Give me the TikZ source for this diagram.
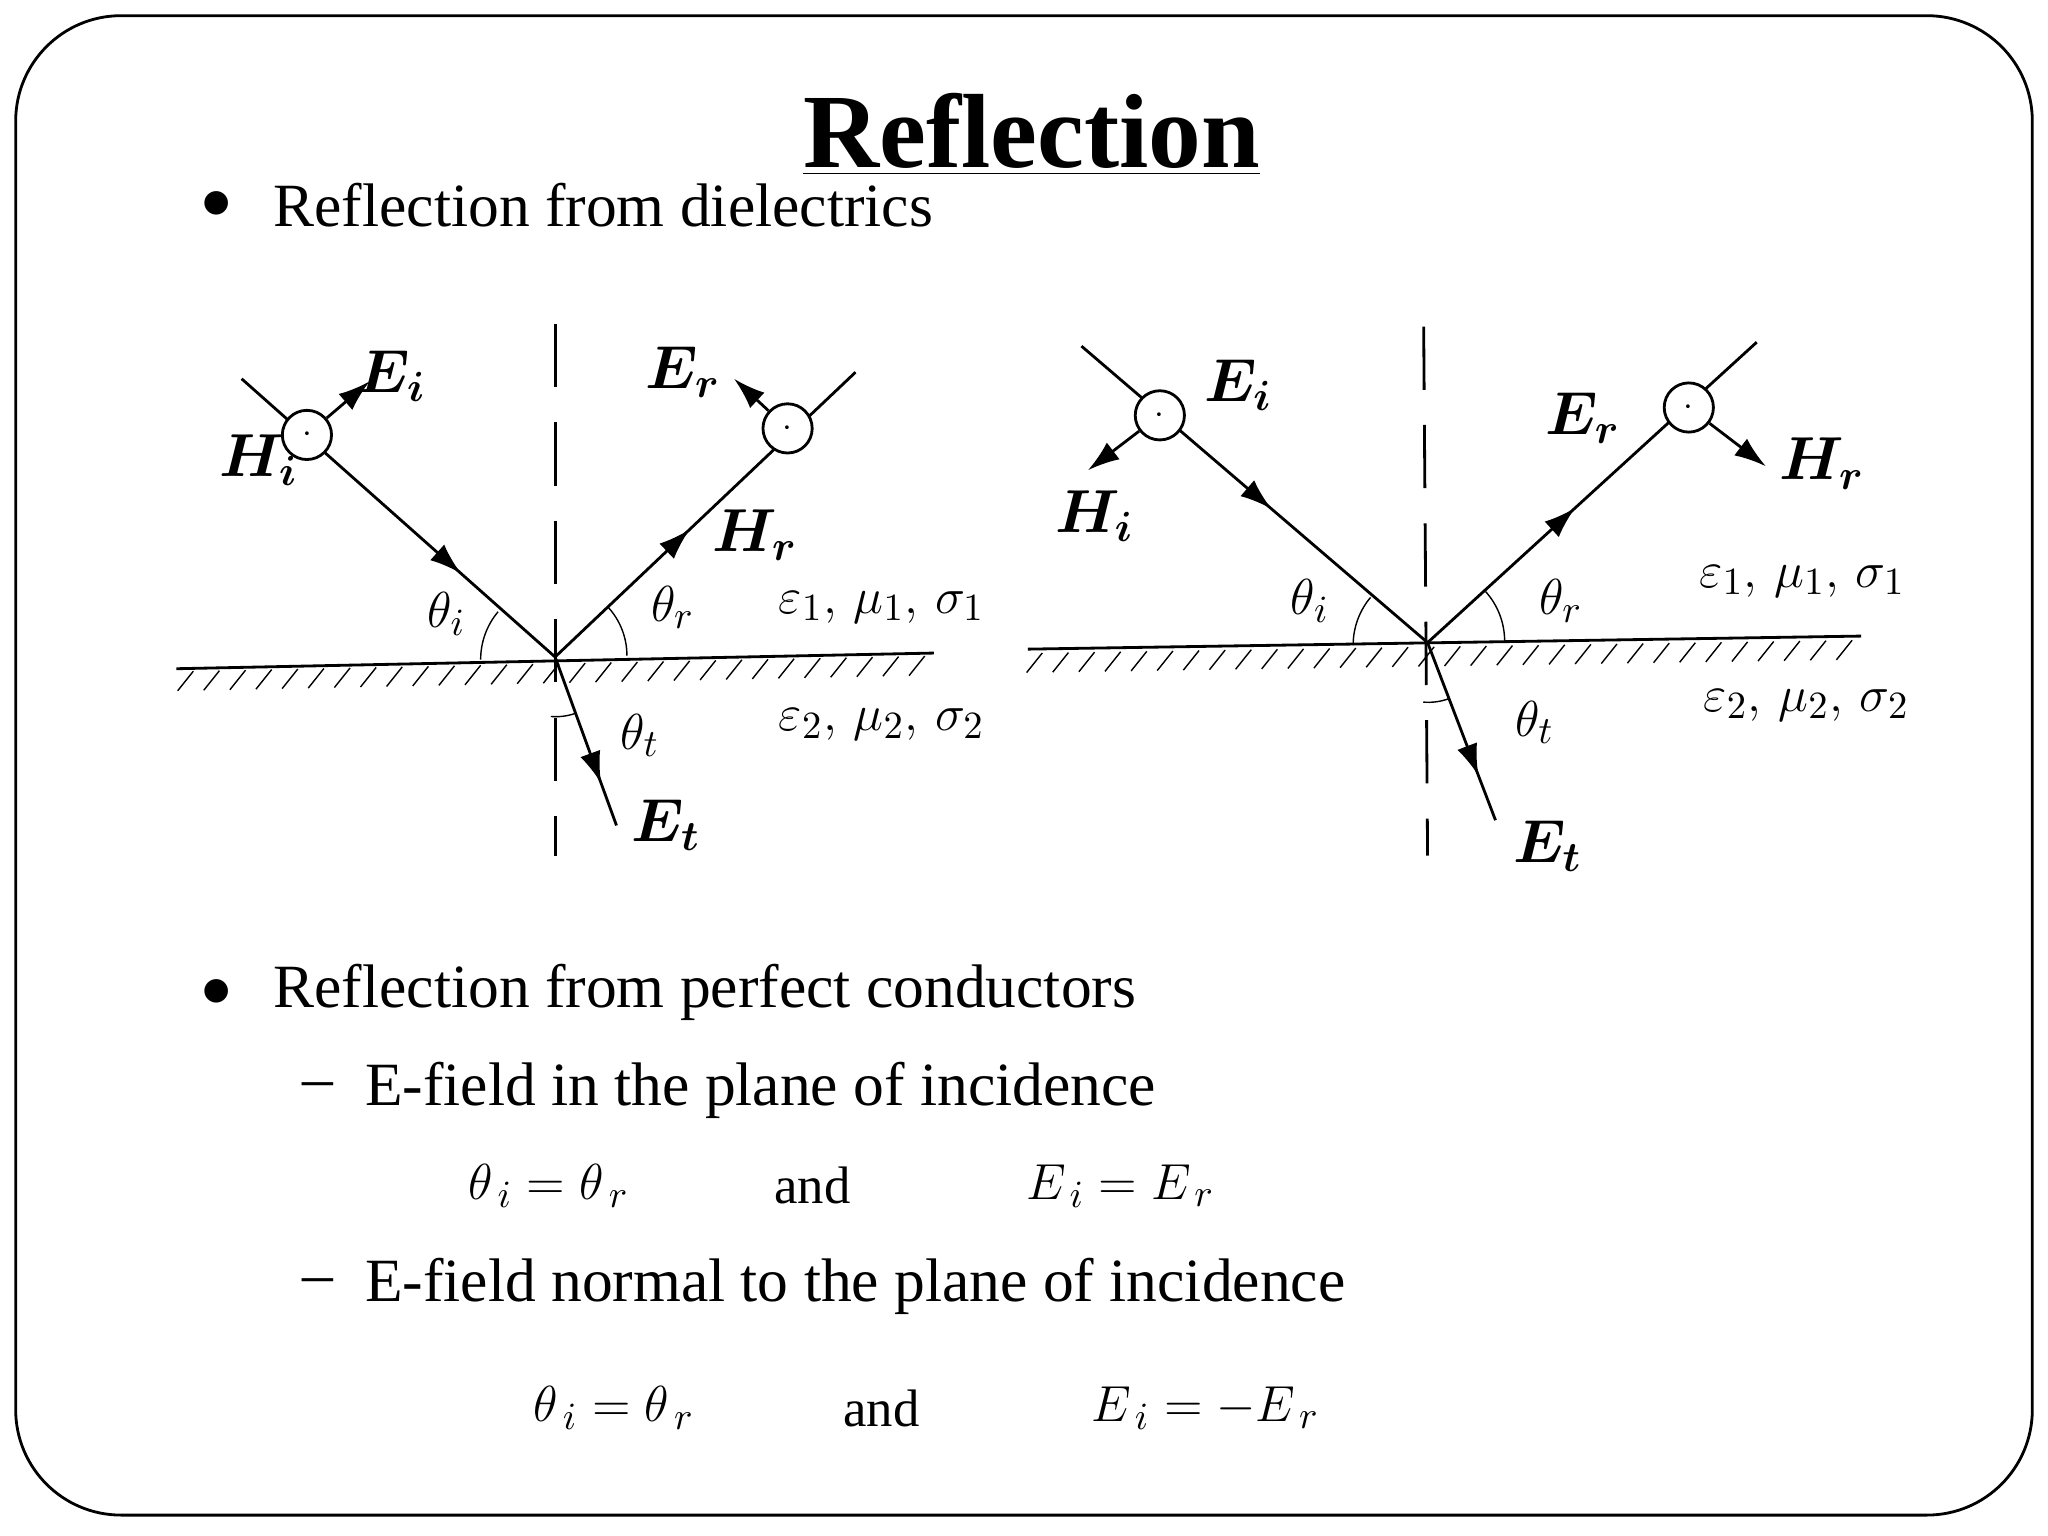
\documentclass[tikz,border=0pt]{standalone}
\usepackage{fontspec}
\setmainfont{Liberation Serif}
\usetikzlibrary{decorations.markings,arrows.meta}
\begin{document}
\begin{tikzpicture}[x=0.013061cm,y=-0.013061cm,
  ray/.style={thick,postaction={decorate},decoration={markings,mark=at position #1 with {\arrow{Latex[length=9pt,width=6pt]}}}},
  vec/.style={thick,-{Latex[length=9pt,width=6pt]}},
  dot/.style={circle,draw,thick,minimum size=14pt,inner sep=0pt,fill=white},
  lab/.style={font=\boldmath\fontsize{17}{17}\selectfont},
  med/.style={font=\fontsize{15}{15}\selectfont},
  txt/.style={anchor=west,font=\fontsize{17.5}{17.5}\selectfont},
  eq/.style={font=\fontsize{15}{15}\selectfont}]
\useasboundingbox (0,0) rectangle (1568,1176);
\draw[thick,rounded corners=30pt] (12,12) rectangle (1556,1160);
\node[font=\bfseries\fontsize{30}{30}\selectfont] (title) at (790,103) {\underline{Reflection}};
\node[anchor=west,font=\fontsize{18}{18}\selectfont] (d1) at (145,157) {$\bullet$};
\node[txt] (b1) at (200,157) {Reflection from dielectrics};

% left diagram
\coordinate (O1) at (425,503);
\draw[thick] (135,512) -- (715,500);
\foreach \x in {140,160,...,700} \draw ({\x+8},{514-0.0207*(\x-135)}) -- ({\x-4},{529-0.0207*(\x-135)});
\draw[thick,dashed,dash pattern=on 18pt off 10pt] (425,248) -- (425,655);
\coordinate (I1) at (185,290);
\coordinate (R1) at (655,285);
\coordinate (T1) at (472,632);
\draw[ray=0.7] (I1) -- (O1);
\draw[ray=0.45] (O1) -- (R1);
\draw[ray=0.75] (O1) -- (T1);
\node[dot] (hi1) at (235,333) {$\cdot$};
\coordinate (ei1) at (283,292);
\draw[vec] (hi1) -- (ei1);
\node[dot] (hr1) at (603,328) {$\cdot$};
\coordinate (er1) at (562,290);
\draw[vec] (hr1) -- (er1);
\draw (368,505) arc[start angle=180,end angle=220,radius=57];
\draw (480,502) arc[start angle=0,end angle=-42,radius=55];
\draw (441,546) arc[start angle=70,end angle=95,radius=45];
\node[lab] at (300,288) {$E_i$};
\node[lab] at (198,352) {$H_i$};
\node[lab] at (523,285) {$E_r$};
\node[lab] at (578,410) {$H_r$};
\node[lab] at (510,632) {$E_t$};
\node[med] at (342,470) {$\theta_i$};
\node[med] at (515,465) {$\theta_r$};
\node[med] at (490,563) {$\theta_t$};
\node[med] at (675,465) {$\varepsilon_1,\,\mu_1,\,\sigma_1$};
\node[med] at (675,555) {$\varepsilon_2,\,\mu_2,\,\sigma_2$};

% right diagram
\coordinate (O2) at (1093,492);
\draw[thick] (787,497) -- (1425,487);
\foreach \x in {790,810,...,1410} \draw ({\x+8},{500-0.0157*(\x-787)}) -- ({\x-4},{515-0.0157*(\x-787)});
\draw[thick,dashed,dash pattern=on 18pt off 10pt] (1090,250) -- (1093,655);
\coordinate (I2) at (828,265);
\coordinate (R2) at (1345,262);
\coordinate (T2) at (1145,628);
\draw[ray=0.55] (I2) -- (O2);
\draw[ray=0.45] (O2) -- (R2);
\draw[ray=0.75] (O2) -- (T2);
\node[dot] (ei2) at (888,318) {$\cdot$};
\coordinate (hi2) at (833,360);
\draw[vec] (ei2) -- (hi2);
\node[dot] (er2) at (1293,312) {$\cdot$};
\coordinate (hr2) at (1352,357);
\draw[vec] (er2) -- (hr2);
\draw (1036,494) arc[start angle=180,end angle=220,radius=57];
\draw (1152,491) arc[start angle=0,end angle=-42,radius=57];
\draw (1109,535) arc[start angle=70,end angle=95,radius=45];
\node[lab] at (948,295) {$E_i$};
\node[lab] at (838,395) {$H_i$};
\node[lab] at (1212,320) {$E_r$};
\node[lab] at (1395,355) {$H_r$};
\node[lab] at (1185,648) {$E_t$};
\node[med] at (1003,460) {$\theta_i$};
\node[med] at (1195,460) {$\theta_r$};
\node[med] at (1175,553) {$\theta_t$};
\node[med] at (1380,445) {$\varepsilon_1,\,\mu_1,\,\sigma_1$};
\node[med] at (1383,540) {$\varepsilon_2,\,\mu_2,\,\sigma_2$};

% text
\node[anchor=west,font=\fontsize{18}{18}\selectfont] (d2) at (145,760) {$\bullet$};
\node[txt] (b2) at (200,760) {Reflection from perfect conductors};
\node[txt] (m1) at (222,835) {--};
\node[txt] (s1) at (270,835) {E-field in the plane of incidence};
\node[txt] (m2) at (222,985) {--};
\node[txt] (s2) at (270,985) {E-field normal to the plane of incidence};
\node[eq] (e1) at (420,908) {$\theta_{\,i}=\theta_{\,r}$};
\node[eq] (a1) at (622,908) {and};
\node[eq] (f1) at (858,908) {$E_{\,i}=E_{\,r}$};
\node[eq] (e2) at (470,1078) {$\theta_{\,i}=\theta_{\,r}$};
\node[eq] (a2) at (675,1078) {and};
\node[eq] (f2) at (923,1078) {$E_{\,i}=-E_{\,r}$};
\end{tikzpicture}
\end{document}
